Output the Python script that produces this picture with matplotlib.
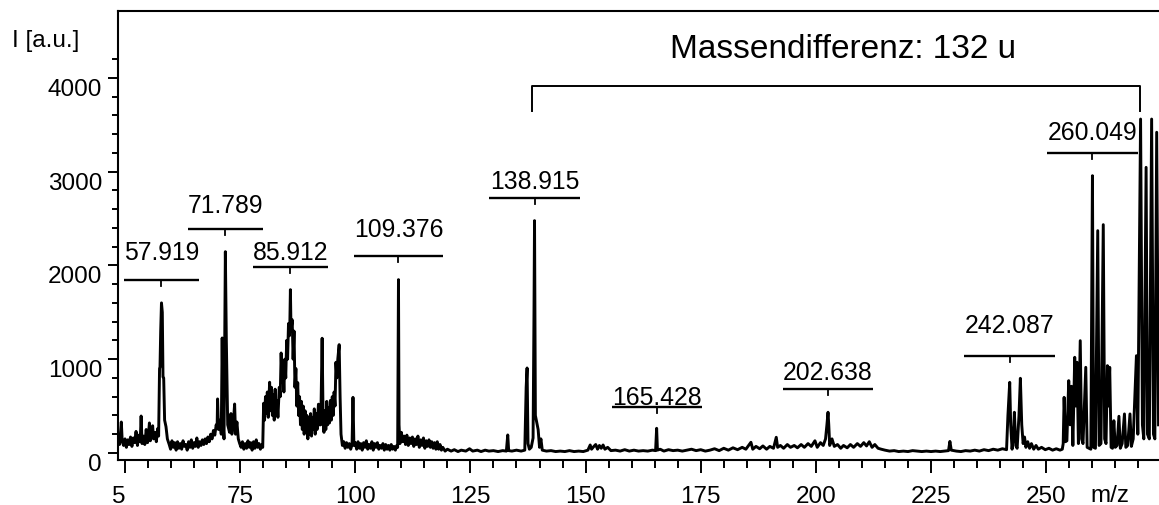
from matplotlib import pyplot as plt
import numpy as np

plt.rcParams['font.family'] = ['Liberation Sans', 'DejaVu Sans']
plt.rcParams['font.size'] = 17

# spectrum read as (m/z, intensity) pairs, grouped by region
low_mass = [
    (48.5, 130), (48.8, 90), (49.0, 200), (49.2, 330), (49.4, 120), (49.7, 80),
    (50.0, 150), (50.3, 60), (50.6, 140), (50.9, 90), (51.2, 170), (51.5, 70),
    (51.8, 160), (52.1, 110), (52.4, 230), (52.7, 80), (53.0, 190), (53.3, 120),
    (53.5, 394), (53.7, 100), (54.0, 180), (54.3, 90), (54.6, 250), (54.9, 110),
    (55.1, 200), (55.3, 320), (55.5, 130), (55.8, 210), (56.0, 290), (56.2, 150),
    (56.5, 220), (56.8, 120), (57.1, 260), (57.3, 180),
    (57.5, 900), (57.6, 917), (57.75, 1300), (57.919, 1600), (58.1, 1500),
    (58.25, 810), (58.4, 800), (58.6, 350), (58.9, 280), (59.2, 150),
    (59.6, 90), (59.9, 40), (60.2, 130), (60.5, 60), (60.8, 110), (61.1, 30),
    (61.4, 120), (61.7, 50), (62.0, 100), (62.3, 40), (62.6, 130), (62.9, 70),
    (63.2, 90), (63.5, 30), (63.8, 120), (64.1, 60), (64.4, 140), (64.7, 50),
    (65.0, 110), (65.3, 70), (65.6, 160), (65.9, 60), (66.2, 120), (66.5, 80),
    (66.8, 140), (67.1, 90), (67.4, 150), (67.7, 100), (68.0, 170), (68.3, 120),
    (68.6, 200), (68.9, 150), (69.2, 240), (69.5, 190), (69.8, 300),
    (70.0, 260), (70.1, 576), (70.3, 250), (70.6, 350), (70.9, 200), (71.1, 1226),
    (71.3, 300), (71.5, 150), (71.789, 2146), (72.0, 1200), (72.3, 300),
    (72.7, 220), (73.0, 420), (73.2, 200), (73.5, 300), (73.8, 522), (74.0, 200),
    (74.3, 330), (74.6, 150), (74.9, 100),
    (75.2, 60), (75.5, 120), (75.8, 40), (76.1, 100), (76.4, 50), (76.7, 130),
    (77.0, 60), (77.3, 110), (77.6, 30), (77.9, 120), (78.2, 50), (78.5, 140),
    (78.8, 60), (79.1, 100), (79.4, 40), (79.7, 90), (79.9, 60),
]

cluster_86 = [
    (80.1, 530), (80.3, 350), (80.5, 600), (80.7, 420), (80.9, 650), (81.1, 380),
    (81.4, 754), (81.6, 450), (81.8, 700), (82.0, 400), (82.2, 620), (82.4, 350),
    (82.6, 680), (82.8, 420), (83.0, 560), (83.2, 380), (83.5, 700), (83.7, 600),
    (83.9, 1066), (84.1, 750), (84.3, 900), (84.5, 650), (84.7, 1000), (84.9, 800),
    (85.1, 1200), (85.3, 1000), (85.5, 1380), (85.7, 1250), (85.8, 1410),
    (85.912, 1741), (86.05, 1300), (86.3, 1420), (86.5, 1000), (86.7, 1300),
    (86.9, 700), (87.1, 900), (87.3, 500), (87.5, 750), (87.7, 400), (87.9, 600),
    (88.1, 300), (88.3, 550), (88.5, 250), (88.7, 500), (88.9, 200), (89.1, 450),
    (89.3, 220), (89.5, 400), (89.7, 150), (89.9, 380), (90.1, 200), (90.3, 420),
    (90.5, 180), (90.7, 380), (90.9, 250), (91.1, 470), (91.3, 200), (91.5, 420),
    (91.7, 250), (92.0, 520), (92.2, 300), (92.5, 300), (92.8, 1223), (93.0, 400),
    (93.2, 220), (93.4, 450), (93.6, 250), (93.8, 550), (94.0, 300), (94.2, 480),
    (94.4, 320), (94.6, 560), (94.8, 350), (95.0, 600), (95.2, 400), (95.4, 650),
    (95.6, 500), (95.8, 967), (96.0, 800), (96.2, 1000), (96.5, 1155), (96.7, 600),
    (96.9, 200),
]

mid_mass = [
    (97.2, 80), (97.5, 120), (97.8, 50), (98.1, 110), (98.4, 60), (98.7, 100),
    (99.0, 40), (99.3, 90), (99.5, 593), (99.7, 80), (100.0, 110), (100.3, 40),
    (100.6, 120), (100.9, 50), (101.2, 100), (101.5, 30), (101.8, 110), (102.1, 60),
    (102.4, 130), (102.7, 40), (103.0, 90), (103.3, 50), (103.6, 120), (103.9, 30),
    (104.2, 100), (104.5, 60), (104.8, 110), (105.1, 40), (105.4, 80), (105.7, 50),
    (106.0, 100), (106.3, 30), (106.6, 90), (106.9, 40), (107.2, 80), (107.5, 30),
    (107.8, 90), (108.1, 40), (108.4, 70), (108.7, 30), (109.0, 80), (109.2, 60),
    (109.3, 1000), (109.376, 1848), (109.5, 300), (109.7, 100),
    (110.0, 220), (110.3, 120), (110.6, 180), (110.9, 90), (111.2, 190), (111.5, 80),
    (111.8, 160), (112.1, 100), (112.4, 170), (112.7, 70), (113.0, 150), (113.3, 90),
    (113.6, 180), (113.9, 60), (114.2, 140), (114.5, 80), (114.8, 160), (115.1, 50),
    (115.4, 130), (115.7, 70), (116.0, 140), (116.3, 60), (116.6, 120), (116.9, 50),
    (117.2, 110), (117.5, 40), (117.8, 120), (118.1, 40), (118.4, 90), (118.7, 30),
    (119.0, 60), (119.5, 20), (120.0, 40), (120.8, 20), (121.5, 35), (122.3, 15),
    (123.0, 30), (124.0, 20), (124.8, 45), (125.5, 20), (126.5, 30), (127.3, 15),
    (128.2, 30), (129.0, 20), (130.0, 25), (131.0, 15), (132.0, 25), (132.8, 20),
    (133.1, 192), (133.3, 25), (134.0, 20), (135.0, 30), (136.0, 20), (136.8, 30),
    (137.1, 700), (137.3, 906), (137.5, 100), (137.8, 40), (138.2, 60), (138.6, 160),
    (138.8, 1500), (138.915, 2477), (139.1, 400), (139.4, 327), (139.7, 250),
    (140.0, 60), (140.3, 150), (140.6, 30), (141.5, 20), (142.5, 25), (143.5, 15),
    (144.5, 20), (145.5, 15), (146.5, 25), (147.5, 15), (148.5, 20), (149.5, 15),
    (150.5, 30), (151.0, 85), (151.3, 40), (151.8, 70), (152.2, 90), (152.6, 40),
    (153.0, 80), (153.4, 50), (153.8, 85), (154.2, 40), (154.8, 60), (155.5, 25),
    (156.5, 30), (157.5, 20), (158.5, 35), (159.5, 20), (160.5, 30), (161.5, 20),
    (162.5, 25), (163.5, 20), (164.5, 30), (165.2, 25), (165.428, 263), (165.6, 30),
    (166.2, 40), (167.0, 20), (168.0, 35), (169.0, 25), (170.0, 30), (171.0, 20),
    (172.0, 30), (173.0, 40), (174.0, 25), (175.0, 35), (176.0, 20), (177.0, 30),
    (178.0, 45), (179.0, 25), (180.0, 50), (181.0, 30), (182.0, 55), (183.0, 35),
    (184.0, 60), (184.8, 40), (185.9, 114), (186.3, 40), (187.0, 70), (187.8, 45),
    (188.5, 75), (189.3, 40), (190.0, 70), (190.8, 50), (191.4, 167), (191.7, 60),
    (192.3, 80), (193.0, 50), (193.8, 90), (194.5, 60), (195.3, 80), (196.0, 55),
    (196.8, 90), (197.5, 60), (198.3, 100), (199.0, 70), (199.8, 130), (200.3, 60),
    (201.0, 110), (201.6, 80), (202.1, 150), (202.4, 300), (202.638, 434),
    (202.8, 300), (203.0, 80), (203.5, 150), (204.0, 70), (204.7, 90), (205.4, 50),
    (206.0, 80), (206.8, 55), (207.5, 90), (208.2, 60), (209.0, 100), (209.7, 70),
    (210.4, 110), (211.0, 75), (211.6, 120), (212.2, 60), (212.8, 90), (213.5, 50),
    (214.2, 40), (215.0, 30), (216.0, 20), (217.0, 25), (218.0, 15), (219.0, 20),
    (220.0, 15), (221.0, 25), (222.0, 20), (223.0, 15), (224.0, 20), (225.0, 15),
    (226.0, 20), (227.0, 15), (228.0, 20), (228.8, 25), (229.1, 123), (229.4, 30),
    (230.5, 20), (231.5, 15), (232.5, 25), (233.5, 20), (234.5, 30), (235.5, 20),
    (236.5, 35), (237.5, 25), (238.5, 40), (239.5, 30), (240.5, 45), (241.4, 35),
    (241.7, 400), (242.087, 753), (242.3, 300), (242.6, 40), (242.9, 200),
    (243.1, 434), (243.4, 80), (243.7, 50), (244.1, 400), (244.4, 796), (244.7, 300),
    (245.0, 100), (245.3, 170), (245.6, 60), (246.0, 120), (246.4, 50), (246.8, 100),
    (247.3, 40), (247.8, 80), (248.3, 40), (249.0, 60), (249.8, 35), (250.6, 50),
    (251.4, 30), (252.2, 45), (253.0, 30), (253.5, 40),
]

high_mass = [
    (253.7, 100), (253.9, 593), (254.2, 120), (254.5, 130), (254.9, 771),
    (255.2, 300), (255.5, 711), (255.8, 80), (256.2, 1020), (256.4, 500),
    (256.7, 967), (257.0, 100), (257.4, 1197), (257.7, 150), (258.0, 100),
    (258.6, 913), (258.9, 60), (259.3, 50), (259.7, 40), (260.049, 2956),
    (260.3, 60), (260.7, 50), (261.2, 2370), (261.5, 80), (261.9, 100),
    (262.4, 2434), (262.7, 150), (263.0, 100), (263.3, 931), (263.5, 500),
    (263.8, 913), (264.1, 60), (264.4, 50), (264.7, 344), (265.0, 60), (265.4, 80),
    (265.8, 391), (266.1, 50), (266.5, 100), (267.0, 416), (267.3, 60), (267.7, 80),
    (268.2, 416), (268.5, 70), (268.9, 150), (269.6, 1037), (269.9, 200),
    (270.5, 3560), (270.9, 300), (271.2, 150), (271.7, 3045), (272.0, 200),
    (272.4, 150), (272.9, 3560), (273.3, 200), (273.6, 150), (274.0, 3419),
    (274.4, 300),
]

# labelled peaks: m/z, bar level, text baseline, bar half width
peak_mz = [57.919, 71.789, 85.912, 109.376, 138.915, 165.428, 202.638, 242.087, 260.049]
bar_level = [1844, 2388, 1979, 2097, 2718, 494, 682, 1037, 3195]
text_level = [2068, 2569, 2068, 2316, 2830, 522, 789, 1290, 3347]
bar_half = [8.1, 8.1, 8.1, 9.7, 9.8, 9.8, 9.8, 9.9, 9.8]

# mass difference bracket
bracket_start = 138.3
mass_diff = 132
bracket_top = 3915
bracket_foot = 3646

spectrum = np.array(low_mass + cluster_86 + mid_mass + high_mass)
mz, inten = spectrum[:, 0], spectrum[:, 1]

fig = plt.figure(figsize=(11.59, 5.06), dpi=100)
ax = fig.add_axes([118 / 1159, 45 / 506, 1 - 118 / 1159, 449 / 506])

ax.plot(mz, inten, color='black', lw=2.1)

# peak labels with bar and centre tick
for m, lvl, tl, hw in zip(peak_mz, bar_level, text_level, bar_half):
    ax.plot([m - hw, m + hw], [lvl, lvl], color='black', lw=1.7, solid_capstyle='butt')
    ax.plot([m, m], [lvl, lvl - 65], color='black', lw=1.3)
    ax.text(m, tl, f'{m:.3f}', ha='center', va='baseline', fontsize=17.8)

bracket_end = bracket_start + mass_diff
ax.plot([bracket_start, bracket_start, bracket_end, bracket_end],
        [bracket_foot, bracket_top, bracket_top, bracket_foot],
        color='black', lw=1.4)
ax.text(205.9, 4221, f'Massendifferenz: {mass_diff} u', ha='center',
        va='baseline', fontsize=24)

ax.set_xlim(48.48, 274.5)
ax.set_ylim(-75, 4712)

ax.set_xticks([50, 75, 100, 125, 150, 175, 200, 225, 250])
ax.set_xticklabels(['5', '75', '100', '125', '150', '175', '200', '225', '250'])
ax.set_xticks(np.arange(55, 271, 5), minor=True)
ax.set_yticks([0, 1000, 2000, 3000, 4000])
ax.set_yticks([v for v in range(200, 4201, 200) if v % 1000], minor=True)

ax.tick_params(axis='both', which='both', direction='out', width=1.4, colors='black')
ax.tick_params(axis='x', which='major', length=9, pad=9, labelsize=17.5)
ax.tick_params(axis='x', which='minor', length=6)
ax.tick_params(axis='y', which='major', length=7.5, pad=4, labelsize=17.5)
ax.tick_params(axis='y', which='minor', length=4.5)
for lbl in ax.get_yticklabels():
    lbl.set_verticalalignment('top')
ax.get_xticklabels()[0].set_horizontalalignment('right')

for side in ['left', 'bottom', 'top']:
    ax.spines[side].set_linewidth(1.5)
ax.spines['right'].set_visible(False)

ax.text(263.9, -0.0913, 'm/z', transform=ax.get_xaxis_transform(),
        ha='center', va='baseline', fontsize=17.5)
fig.text(46 / 1159, 1 - 47 / 506, 'I [a.u.]', ha='center', va='baseline', fontsize=17.5)

fig.savefig('out.png', dpi=100)
